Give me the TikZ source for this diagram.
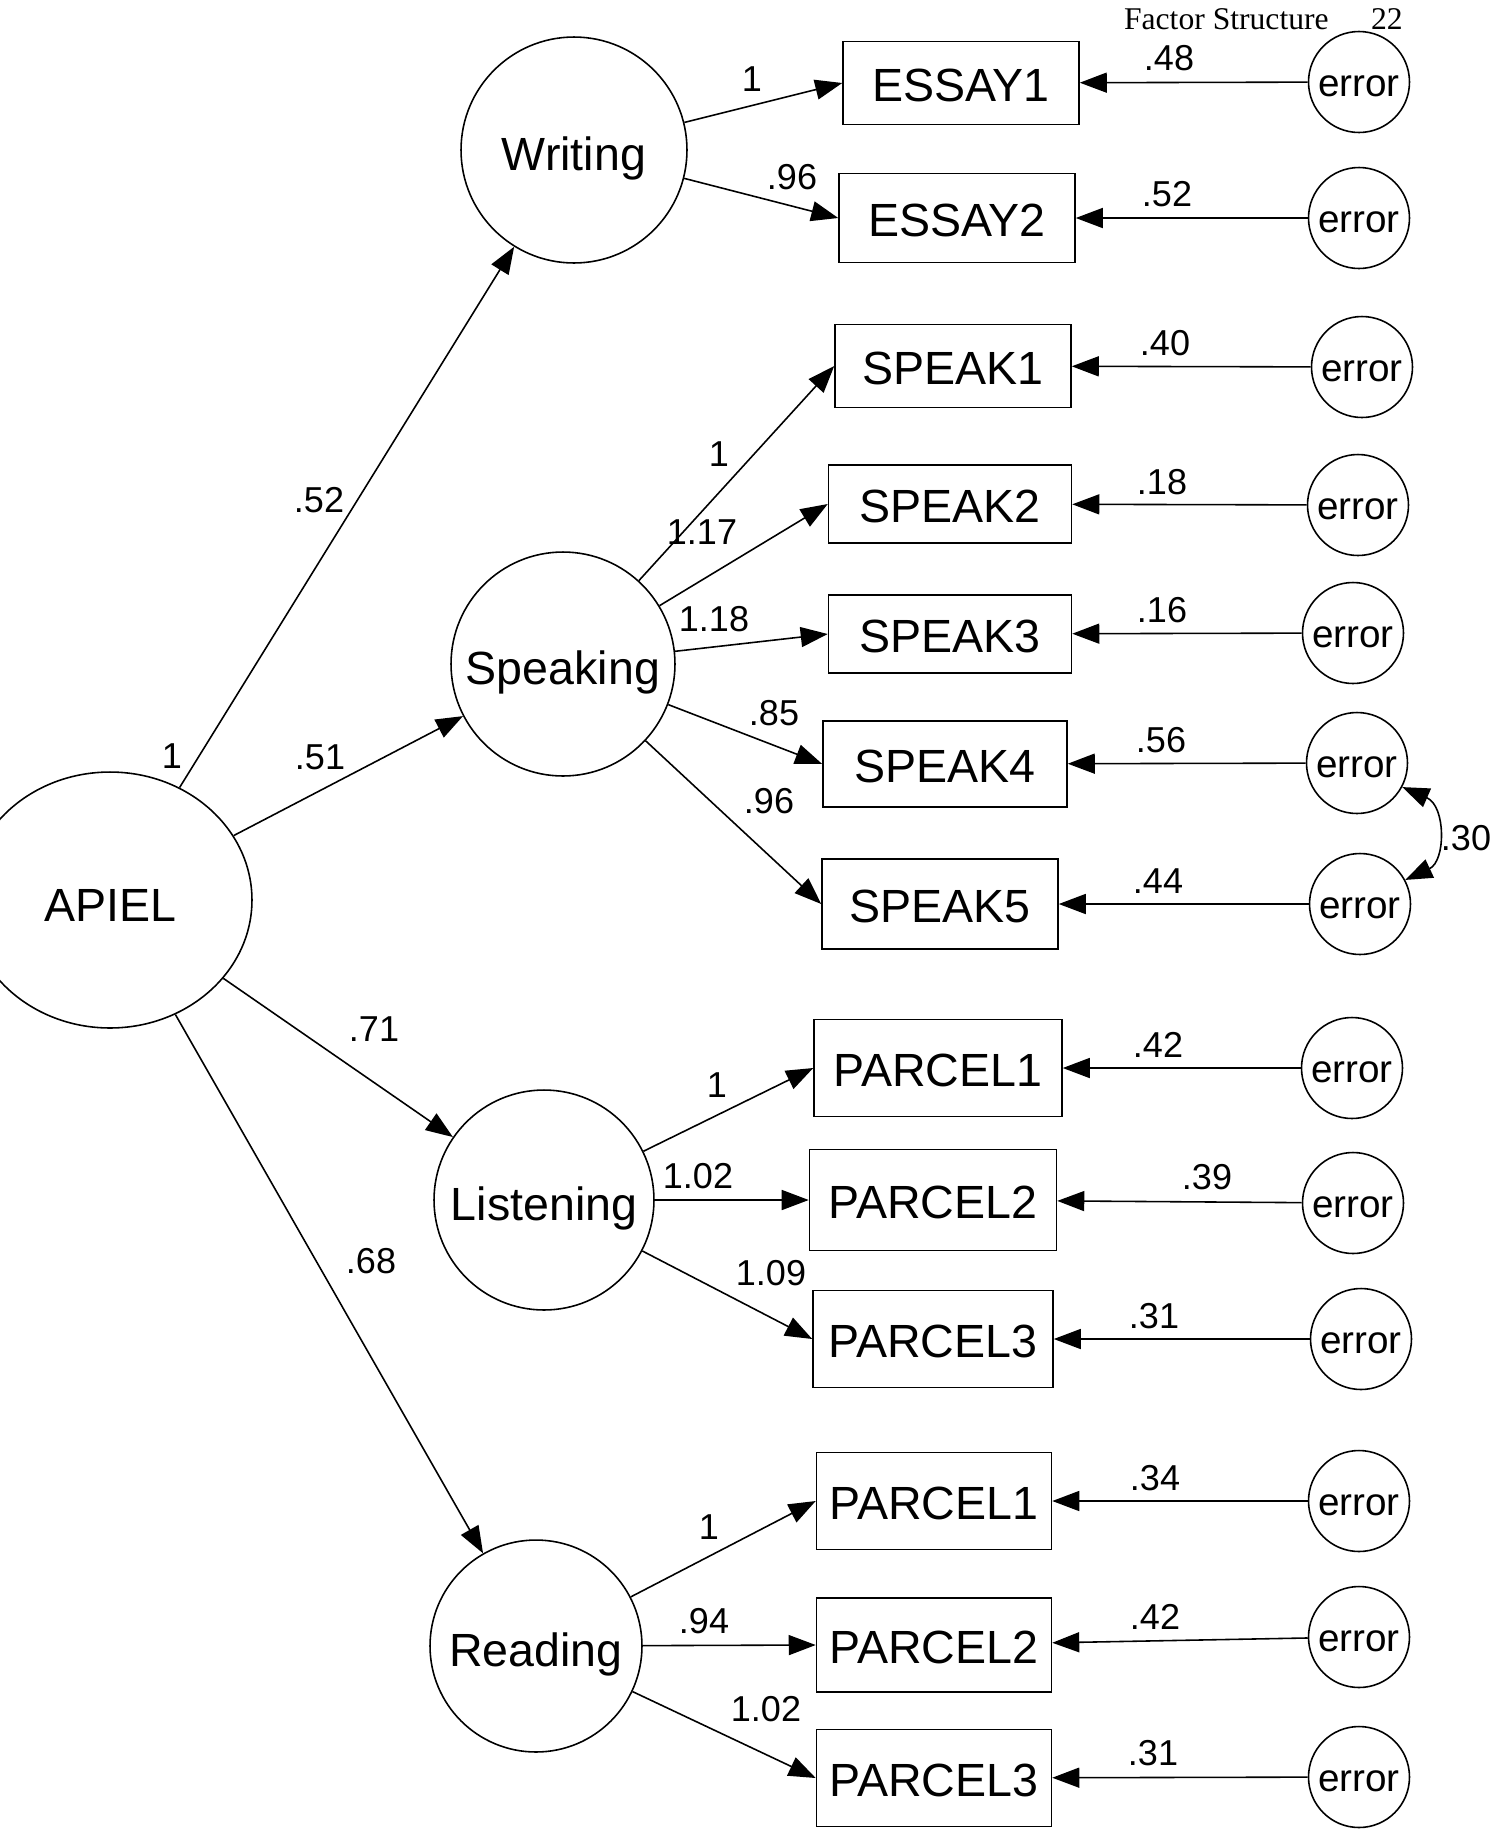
\documentclass[tikz,border=0pt]{standalone}
\usepackage{fontspec}
\setmainfont{Liberation Sans}
\newfontfamily\headfont{Liberation Serif}
\usetikzlibrary{arrows.meta,shapes.geometric}
\tikzset{
    general/.style={
        draw,
        ellipse,
        line width=0.9pt,
        minimum width=5.68cm,
        minimum height=5.12cm,
        inner sep=0pt,
        text height=24.4pt,
        text depth=0pt,
        font=\fontsize{26.5}{30}\selectfont
    },
    latent/.style={
        draw,
        circle,
        line width=0.9pt,
        minimum size=4.48cm,
        inner sep=0pt,
        text height=23.8pt,
        text depth=0pt,
        font=\fontsize{26.5}{30}\selectfont
    },
    measure/.style={
        draw,
        rectangle,
        line width=0.9pt,
        minimum width=4.72cm,
        minimum height=1.66cm,
        inner sep=2pt,
        text height=21.2pt,
        text depth=0pt,
        font=\fontsize{26.5}{30}\selectfont
    },
    parcel/.style={
        measure,
        minimum width=4.7cm,
        minimum height=1.94cm
    },
    errorterm/.style={
        draw,
        circle,
        line width=0.9pt,
        minimum size=2.02cm,
        inner sep=0pt,
        text height=16.7pt,
        text depth=0pt,
        font=\fontsize{22}{24}\selectfont
    },
    estimate/.style={
        inner sep=0pt,
        font=\fontsize{20.5}{22}\selectfont
    },
    pathload/.style={
        -{Triangle[length=0.54cm,width=0.4cm]},
        line width=0.9pt
    },
    covar/.style={
        {Triangle[length=0.54cm,width=0.4cm]}-{Triangle[length=0.54cm,width=0.4cm]},
        line width=0.9pt
    }
}
\begin{document}
\begin{tikzpicture}[x=0.02cm,y=-0.02cm]
        \useasboundingbox (0,0) rectangle (1505,1833);
        \node[anchor=base east,font=\headfont\fontsize{18}{20}\selectfont]
            (pagehead) at (1409,29) {Factor Structure\hspace{0.85cm}22};

        % factors
        \node[general] (apiel) at (110,900) {APIEL};
        \node[latent,minimum size=4.52cm] (writing) at (574,150) {Writing};
        \node[latent] (speaking) at (563,664) {Speaking};
        \node[latent,minimum size=4.4cm] (listening) at (544,1200) {Listening};
        \node[latent,minimum size=4.24cm] (reading) at (536,1646) {Reading};

        % observed variables
        \node[measure] (essay1) at (961,83) {ESSAY1};
        \node[measure,minimum height=1.78cm] (essay2) at (957,218) {ESSAY2};
        \node[measure] (speak1) at (953,366) {SPEAK1};
        \node[measure,minimum width=4.86cm,minimum height=1.56cm] (speak2) at (950,504) {SPEAK2};
        \node[measure,minimum width=4.86cm,minimum height=1.56cm] (speak3) at (950,634) {SPEAK3};
        \node[measure,minimum width=4.88cm,minimum height=1.72cm] (speak4) at (945,764) {SPEAK4};
        \node[measure,minimum height=1.8cm] (speak5) at (940,904) {SPEAK5};
        \node[parcel,minimum width=4.96cm] (lparcel1) at (938,1068) {PARCEL1};
        \node[parcel,minimum width=4.94cm,minimum height=2.02cm] (lparcel2) at (933,1200) {PARCEL2};
        \node[parcel,minimum width=4.8cm] (lparcel3) at (933,1339) {PARCEL3};
        \node[parcel] (rparcel1) at (934,1501) {PARCEL1};
        \node[parcel,minimum height=1.88cm] (rparcel2) at (934,1645) {PARCEL2};
        \node[parcel] (rparcel3) at (934,1778) {PARCEL3};

        % error terms
        \node[errorterm] (err1) at (1359,82) {error};
        \node[errorterm] (err2) at (1359,218) {error};
        \node[errorterm] (err3) at (1362,367) {error};
        \node[errorterm] (err4) at (1358,505) {error};
        \node[errorterm] (err5) at (1353,633) {error};
        \node[errorterm] (err6) at (1357,763) {error};
        \node[errorterm] (err7) at (1360,904) {error};
        \node[errorterm] (err8) at (1352,1068) {error};
        \node[errorterm] (err9) at (1353,1203) {error};
        \node[errorterm] (err10) at (1361,1339) {error};
        \node[errorterm] (err11) at (1359,1501) {error};
        \node[errorterm] (err12) at (1359,1637) {error};
        \node[errorterm] (err13) at (1359,1777) {error};

        % second order loadings
        \draw[pathload] (apiel) -- (writing);
        \draw[pathload] (apiel) -- (speaking);
        \draw[pathload] (apiel) -- (listening);
        \draw[pathload] (apiel) -- (reading);

        % first order loadings
        \draw[pathload] (writing) -- (essay1.west);
        \draw[pathload] (writing) -- (essay2.west);
        \draw[pathload] (speaking) -- (speak1.west);
        \draw[pathload] (speaking) -- (speak2.west);
        \draw[pathload] (speaking) -- (speak3.west);
        \draw[pathload] (speaking) -- (speak4.west);
        \draw[pathload] (speaking) -- (speak5.west);
        \draw[pathload] (listening) -- (lparcel1.west);
        \draw[pathload] (listening) -- (lparcel2.west);
        \draw[pathload] (listening) -- (lparcel3.west);
        \draw[pathload] (reading) -- (rparcel1.west);
        \draw[pathload] (reading) -- (rparcel2.west);
        \draw[pathload] (reading) -- (rparcel3.west);

        % residuals
        \draw[pathload] (err1) -- (essay1);
        \draw[pathload] (err2) -- (essay2);
        \draw[pathload] (err3) -- (speak1);
        \draw[pathload] (err4) -- (speak2);
        \draw[pathload] (err5) -- (speak3);
        \draw[pathload] (err6) -- (speak4);
        \draw[pathload] (err7) -- (speak5);
        \draw[pathload] (err8) -- (lparcel1);
        \draw[pathload] (err9) -- (lparcel2);
        \draw[pathload] (err10) -- (lparcel3);
        \draw[pathload] (err11) -- (rparcel1);
        \draw[pathload] (err12) -- (rparcel2);
        \draw[pathload] (err13) -- (rparcel3);
        \draw[covar] (err6.-28) .. controls (1446,806) and (1446,861) .. (err7.28);

        % estimates
        \node[estimate] (est-aw) at (172,756) {1};
        \node[estimate] (est-aw2) at (319,500) {.52};
        \node[estimate] (est-as) at (320,757) {.51};
        \node[estimate] (est-al) at (374,1029) {.71};
        \node[estimate] (est-ar) at (371,1261) {.68};
        \node[estimate] (est-w1) at (752,79) {1};
        \node[estimate] (est-w2) at (792,177) {.96};
        \node[estimate] (est-s1) at (719,454) {1};
        \node[estimate] (est-s2) at (702,532) {1.17};
        \node[estimate] (est-s3) at (714,619) {1.18};
        \node[estimate] (est-s4) at (774,713) {.85};
        \node[estimate] (est-s5) at (769,801) {.96};
        \node[estimate] (est-l1) at (717,1085) {1};
        \node[estimate] (est-l2) at (698,1176) {1.02};
        \node[estimate] (est-l3) at (771,1273) {1.09};
        \node[estimate] (est-r1) at (709,1527) {1};
        \node[estimate] (est-r2) at (704,1621) {.94};
        \node[estimate] (est-r3) at (766,1709) {1.02};
        \node[estimate] (est-e1) at (1169,58) {.48};
        \node[estimate] (est-e2) at (1167,194) {.52};
        \node[estimate] (est-e3) at (1165,343) {.40};
        \node[estimate] (est-e4) at (1162,482) {.18};
        \node[estimate] (est-e5) at (1162,610) {.16};
        \node[estimate] (est-e6) at (1161,740) {.56};
        \node[estimate] (est-e7) at (1158,881) {.44};
        \node[estimate] (est-cov) at (1466,838) {.30};
        \node[estimate] (est-e8) at (1158,1045) {.42};
        \node[estimate] (est-e9) at (1207,1177) {.39};
        \node[estimate] (est-e10) at (1154,1316) {.31};
        \node[estimate] (est-e11) at (1155,1478) {.34};
        \node[estimate] (est-e12) at (1155,1617) {.42};
        \node[estimate] (est-e13) at (1153,1753) {.31};
    \end{tikzpicture}
\end{document}
